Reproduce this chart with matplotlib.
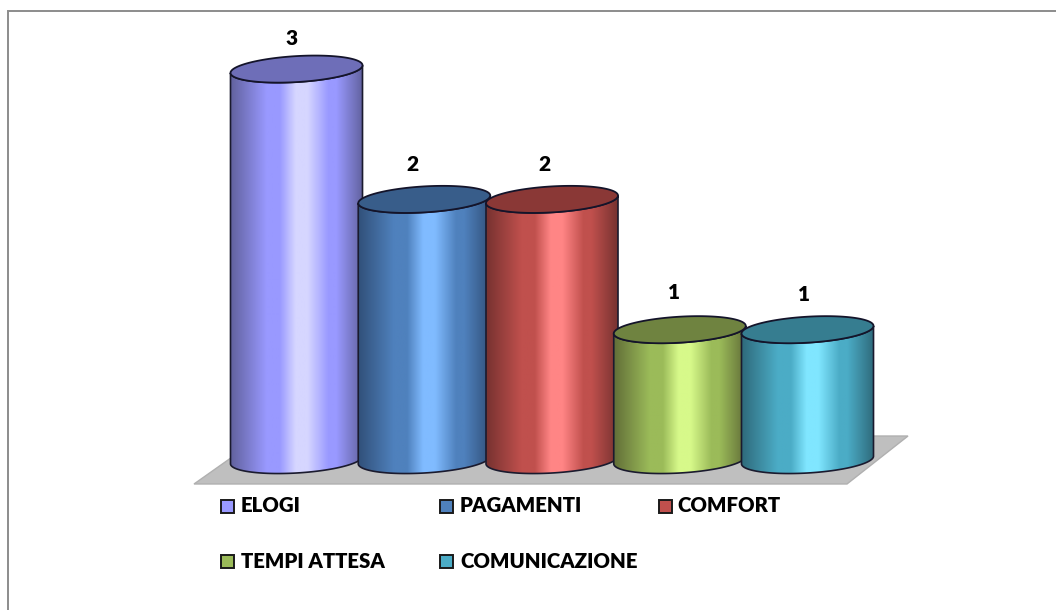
import numpy as np
import matplotlib
matplotlib.use("Agg")
import matplotlib.pyplot as plt
from matplotlib.colors import LinearSegmentedColormap
from matplotlib.patches import Polygon, Rectangle, PathPatch
from matplotlib.path import Path

categories = ["ELOGI", "PAGAMENTI", "COMFORT", "TEMPI ATTESA", "COMUNICAZIONE"]
values = [3, 2, 2, 1, 1]
base_colors = ["#9999FF", "#4F81BD", "#C0504D", "#9BBB59", "#4BACC6"]
light_colors = ["#D6D6FF", "#80BBFF", "#FF8585", "#D7F98A", "#80E6FF"]
dark_colors = ["#62629F", "#315079", "#773230", "#626F38", "#2F6B7C"]
top_colors = ["#6E6EB8", "#385D8A", "#8A3836", "#6F8340", "#367D90"]

W, H = 1056, 610
UNIT = 130.3
fig = plt.figure(figsize=(W / 100, H / 100), dpi=100, facecolor="white")
ax = fig.add_axes([0, 0, 1, 1])
# category index -> pixel: 296.5 + 127.75 i;  value -> pixel row: 460 - UNIT v
xlim = (-296.5 / 127.75, (W - 296.5) / 127.75)
ylim = ((460 - H) / UNIT, 460 / UNIT)
ax.set_xlim(xlim)
ax.set_ylim(ylim)
ax.axis("off")

px = lambda x, y: (x / W, 1 - y / H)
T = fig.transFigure

# chart frame: left and top edges only are visible
fig.add_artist(Polygon([px(7.5, 611), px(7.5, 10.5), px(1057, 10.5)],
                       closed=False, fill=False, ec="#8C8C8C", lw=1.4, transform=T))

# floor
ax.add_patch(Polygon([px(194, 484), px(847, 484), px(908, 436), px(262, 436)], closed=True,
                     fc="#BFBFBF", ec="#B0B0B0", lw=1, transform=T, zorder=1))

half_w = 66 / 127.75
ry = 13 / UNIT         # half height of the ellipse
shear = 3.8 / UNIT     # left end lower, right end higher
label_offsets = [(-4.5, 31), (-12, 35), (-8, 35), (-6, 37), (-4, 35)]


def rim(cx, v, t):
    return cx + half_w * np.cos(t), v + ry * np.sin(t) + shear * np.cos(t)


for i, (v, c, lc, dc, tc) in enumerate(zip(values, base_colors, light_colors, dark_colors, top_colors)):
    z = 2 + i
    cmap = LinearSegmentedColormap.from_list(
        f"c{i}", [(0, dc), (0.27, c), (0.37, c), (0.49, lc), (0.58, lc), (0.74, c), (0.80, c), (1, dc)])
    bx, by = rim(i, 0, np.linspace(np.pi, 2 * np.pi, 80))
    ux, uy = rim(i, v, np.linspace(0, -np.pi, 80))
    verts = np.column_stack([np.r_[bx, ux], np.r_[by, uy]])
    path = Path(np.r_[verts, verts[:1]], closed=True)
    im = ax.imshow(np.linspace(0, 1, 256)[None, :], cmap=cmap, aspect="auto",
                   extent=(i - half_w, i + half_w, -0.2, v + 0.2), zorder=z, interpolation="bilinear")
    outline = PathPatch(path, fc="none", ec="#1A1A2E", lw=1.2, zorder=z + 0.1)
    ax.add_patch(outline)
    im.set_clip_path(outline)
    ex, ey = rim(i, v, np.linspace(0, 2 * np.pi, 160))
    ax.fill(ex, ey, fc=tc, ec="#14142A", lw=1.3, zorder=z + 0.2)
    dx, dy = label_offsets[i]
    ax.annotate(str(v), (i, v), xytext=(dx * 0.72, dy * 0.72), textcoords="offset points", ha="center",
                va="center", fontsize=15, fontweight="heavy", family="Lato", color="black", zorder=20)
ax.set_xlim(xlim)
ax.set_ylim(ylim)

# legend
slots = [(221, 506), (440, 506), (659, 506), (221, 561), (440, 561)]
for name, col, (sx, sy) in zip(categories, base_colors, slots):
    fig.add_artist(Rectangle(px(sx, sy + 7), 13 / W, 13 / H, fc=col, ec="#1A1A1A", lw=1.4, transform=T))
    fig.text(*px(sx + 20 - (2 if name == "COMFORT" else 0), sy), name, fontsize=14.7, fontweight="heavy",
             family="Lato", va="center", ha="left", color="black")

fig.savefig("out.png", dpi=100)
